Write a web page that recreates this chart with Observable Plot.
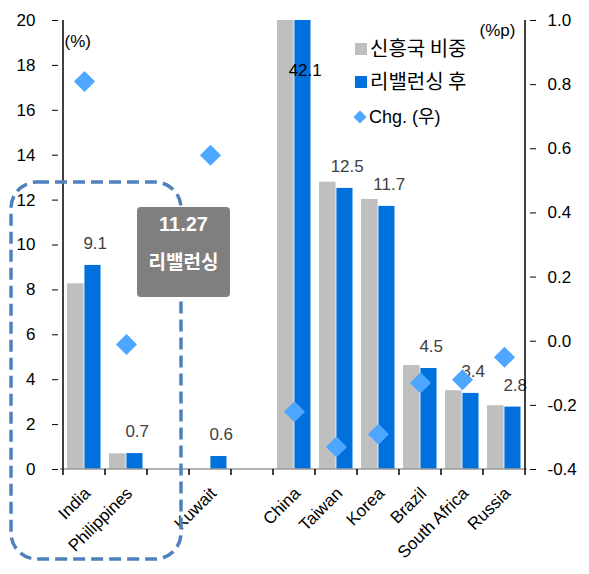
<!DOCTYPE html>
<html><head><meta charset="utf-8">
<script src="https://cdn.jsdelivr.net/npm/d3@7"></script>
<script src="https://cdn.jsdelivr.net/npm/@observablehq/plot@0.6"></script>
<style>body{margin:0;background:#fff}</style>
</head><body><div id="chart"></div>
<script>
const categories = ["India","Philippines","gap1","Kuwait","gap2","China","Taiwan","Korea","Brazil","South Africa","Russia"];
const before = [8.27, 0.70, null, 0.0, null, 42.3, 12.8, 12.03, 4.63, 3.51, 2.84];
const after  = [9.09, 0.71, null, 0.58, null, 42.1, 12.52, 11.72, 4.50, 3.39, 2.78];
const chg    = [0.81, -0.01, null, 0.58, null, -0.22, -0.33, -0.29, -0.13, -0.12, -0.05];
const leftTicks = [0,2,4,6,8,10,12,14,16,18,20];
const rightTicks = [-0.4,-0.2,0.0,0.2,0.4,0.6,0.8,1.0];
const seriesNames = ["신흥국 비중","리밸런싱 후","Chg. (우)"];
const leftUnit = "(%)", rightUnit = "(%p)";
const noteDate = "11.27", noteText = "리밸런싱";

const yMax = 20, rMin = -0.4, rMax = 1.0;
const toLeft = c => (c - rMin) / (rMax - rMin) * yMax;
const rows = categories.map((c,i)=>({cat:c, before:before[i], after:after[i], chg:chg[i]})).filter(d=>d.after!=null);

const W=589, H=574, mL=58, mR=60, mT=20, mB=105;
const band = (W-mL-mR)/categories.length;
const font = '"Liberation Sans Narrow","Arial Narrow","Liberation Sans",Arial,"Noto Sans CJK KR",sans-serif';
const kfont = '"Noto Sans CJK KR","Liberation Sans",sans-serif';
const grayC = "#bfbfbf", blueC = "#0070dc", diaC = "#4da6ff";
const rightLabel = new Map(rightTicks.map(t => [toLeft(t), t.toFixed(1)]));

const plot = Plot.plot({
  width: W, height: H, marginLeft: mL, marginRight: mR, marginTop: mT, marginBottom: mB,
  style: {fontFamily: font, fontSize: "17px", color: "#000", background: "#fff", overflow: "visible"},
  x: {domain: categories, padding: 0, axis: null, label: null},
  y: {domain: [0, yMax], axis: null, label: null},
  marks: [
    Plot.barY(rows, {x:"cat", y:"before", fill: grayC, insetLeft: 4, insetRight: band/2, clip: true}),
    Plot.barY(rows, {x:"cat", y:"after", fill: blueC, insetLeft: band/2, insetRight: 4.5, clip: true}),
    Plot.text(rows.filter(d=>d.after<=yMax), {x:"cat", y:"after", text: d=>d.after.toFixed(1), dx: band/4, dy: -22, fill:"#404040", fontSize: 17}),
    Plot.text(rows.filter(d=>d.after>yMax), {x:"cat", y: () => yMax, text: d=>d.after.toFixed(1), dx: band/4, dy: 50, fill:"#000", fontSize: 17}),
    Plot.dot(rows, {x:"cat", y: d=>toLeft(d.chg), symbol:"diamond2", r: 9.5, fill: diaC}),
    Plot.axisY(leftTicks, {anchor:"left", tickSize: 6, tickPadding: 17, fontSize: 17, label: null}),
    Plot.axisY(rightTicks.map(toLeft), {anchor:"right", tickSize: 6, tickPadding: 12, fontSize: 17, label: null, tickFormat: v => rightLabel.get(v)}),
    Plot.axisX({tickSize: 0, tickRotate: -45, tickPadding: 21, dx: 3, fontSize: 17, label: null, tickFormat: d => d.startsWith("gap") ? "" : d}),
    Plot.text([leftUnit], {frameAnchor:"top-left", dx: 6, dy: 14, fontSize: 17}),
    Plot.text([rightUnit], {frameAnchor:"top-right", dx: -14, dy: 3, fontSize: 17})
  ]
});
document.getElementById("chart").appendChild(plot);

const svg = d3.select(plot);
const xs = plot.scale("x"), ysc = plot.scale("y");
const y0 = ysc.apply(0), yT = ysc.apply(yMax);
const xL = xs.apply(categories[0]);
const xR = xs.apply(categories[categories.length-1]) + xs.bandwidth;
const g = svg.append("g");
g.append("line").attr("x1", xL - 3).attr("x2", xR + 2).attr("y1", y0).attr("y2", y0).attr("stroke", "#999").attr("stroke-width", 1.5);
g.append("line").attr("x1", xL).attr("x2", xL).attr("y1", yT).attr("y2", y0).attr("stroke", "#000").attr("stroke-width", 1.5);
g.append("line").attr("x1", xR).attr("x2", xR).attr("y1", yT).attr("y2", y0).attr("stroke", "#000").attr("stroke-width", 1.5);
const bounds = categories.map(c => xs.apply(c)).concat([xR]);
g.selectAll("line.bt").data(bounds).join("line").attr("class","bt")
  .attr("x1", d=>d).attr("x2", d=>d).attr("y1", y0).attr("y2", y0 + 6).attr("stroke", "#000").attr("stroke-width", 1.5);

// legend
const lg = svg.append("g").attr("font-family", kfont).attr("font-size", 20).attr("text-anchor", "start");
const lx = 355;
lg.append("rect").attr("x", lx).attr("y", 43).attr("width", 12).attr("height", 12).attr("fill", grayC);
lg.append("text").attr("x", lx + 15).attr("y", 49).attr("dy", "0.35em").text(seriesNames[0]);
lg.append("rect").attr("x", lx).attr("y", 76).attr("width", 12).attr("height", 12).attr("fill", blueC);
lg.append("text").attr("x", lx + 15).attr("y", 82).attr("dy", "0.35em").text(seriesNames[1]);
lg.append("path").attr("d", d3.symbol(d3.symbolDiamond2, 110)()).attr("transform", `translate(${lx+5},117)`).attr("fill", diaC);
lg.append("text").attr("x", lx + 14).attr("y", 117).attr("dy", "0.35em").attr("font-family", font).attr("font-size", 18).text(seriesNames[2]);

// annotation
svg.append("rect").attr("x", 11).attr("y", 182).attr("width", 170).attr("height", 377).attr("rx", 26).attr("ry", 26)
  .attr("fill", "none").attr("stroke", "#4f81bd").attr("stroke-width", 3.5).attr("stroke-dasharray", "12 6");
const ng = svg.append("g").attr("text-anchor", "middle");
ng.append("rect").attr("x", 137).attr("y", 207).attr("width", 93).attr("height", 90).attr("rx", 4).attr("fill", "#7f7f7f");
ng.append("text").attr("x", 183.5).attr("y", 224).attr("dy", "0.35em").attr("fill", "#fff")
  .attr("font-family", '"Liberation Sans",Arial,sans-serif').attr("font-weight", "bold").attr("font-size", 20).text(noteDate);
ng.append("text").attr("x", 183.5).attr("y", 262).attr("dy", "0.35em").attr("fill", "#fff")
  .attr("font-family", kfont).attr("font-weight", "bold").attr("font-size", 19).text(noteText);
</script>
</body></html>
